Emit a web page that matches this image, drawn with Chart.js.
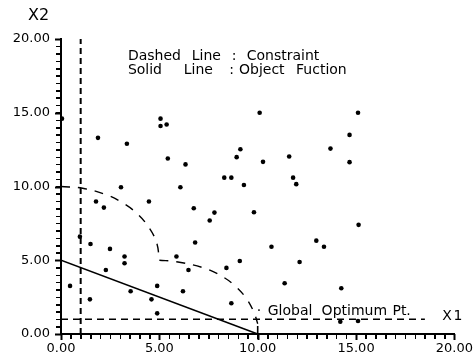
<!DOCTYPE html>
<html>
<head>
<meta charset="utf-8">
<script src="https://cdn.jsdelivr.net/npm/chart.js@4.4.1/dist/chart.umd.min.js"></script>
<style>
  html, body { margin: 0; padding: 0; background: #fff; }
</style>
</head>
<body>
<canvas id="optChart" width="475" height="361"></canvas>
<script>
// trial points (x1, x2)
const pointsX1 = [0.05, 1.88, 3.35, 5.06, 5.06, 5.37, 5.43, 6.33, 8.30, 8.66, 8.93, 9.12, 10.10, 15.10, 14.67, 13.70,
                  10.27, 11.60, 14.67, 11.80, 11.96, 9.30, 3.05, 6.07, 1.78, 2.18, 4.47, 6.75, 7.80, 7.56, 9.81, 15.13,
                  0.96, 1.50, 2.49, 6.82, 10.70, 12.98, 13.37, 3.23, 3.23, 5.87, 9.09, 12.13, 2.28, 6.48, 8.41,
                  0.46, 4.89, 3.54, 6.20, 11.37, 14.25, 1.47, 4.60, 8.66, 4.89, 14.20, 15.10];
const pointsX2 = [14.60, 13.30, 12.90, 14.60, 14.10, 14.20, 11.90, 11.50, 10.60, 10.60, 11.99, 12.53, 15.00, 15.00, 13.50, 12.57,
                  11.67, 12.03, 11.65, 10.60, 10.16, 10.10, 9.95, 9.95, 8.98, 8.57, 8.98, 8.53, 8.23, 7.69, 8.25, 7.40,
                  6.60, 6.10, 5.77, 6.20, 5.92, 6.33, 5.92, 5.25, 4.80, 5.25, 4.95, 4.88, 4.34, 4.34, 4.48,
                  3.26, 3.26, 2.90, 2.90, 3.44, 3.10, 2.35, 2.35, 2.08, 1.40, 0.83, 0.88];

// solid line : objective function
const objectiveX1 = [0, 10];
const objectiveX2 = [5, 0];

// dashed lines : constraints
const boundVertX1 = [1, 1];
const boundVertX2 = [0, 20];
const boundHorizX1 = [0, 18.5];
const boundHorizX2 = [1, 1];
const arcUpperX1 = [0, 1.1, 2.3, 3.1, 3.84, 4.43, 4.86, 5.0];
const arcUpperX2 = [10, 9.88, 9.44, 8.92, 8.2, 7.3, 6.2, 5.0];
const arcLowerX1 = [5.0, 5.87, 7.2, 8.2, 8.9, 9.4, 9.8, 10.0];
const arcLowerX2 = [5.0, 4.9, 4.5, 3.9, 3.2, 2.45, 1.5, 0.7];

// global optimum marker
const optimumX1 = [10, 10];
const optimumX2 = [0, 0.55];

// axis ticks: labelled every 5, small ticks every 0.5
const majorTicks = [0, 5, 10, 15, 20];
const tickStep = 0.5;

// text notes placed in data units
const notes = [
  { text: 'Dashed', x: 3.40, y: 18.59 },
  { text: 'Line', x: 6.65, y: 18.59 },
  { text: ':', x: 8.68, y: 18.59 },
  { text: 'Constraint', x: 9.44, y: 18.59 },
  { text: 'Solid', x: 3.40, y: 17.64 },
  { text: 'Line', x: 6.24, y: 17.64 },
  { text: ':', x: 8.55, y: 17.64 },
  { text: 'Object', x: 9.05, y: 17.64 },
  { text: 'Fuction', x: 11.95, y: 17.64 },
  { text: '\u00b7', x: 9.95, y: 1.29 },
  { text: 'Global', x: 10.51, y: 1.29 },
  { text: 'Optimum', x: 13.25, y: 1.29 },
  { text: 'Pt.', x: 16.85, y: 1.29 },
  { text: 'X', x: 19.38, y: 0.95 },
  { text: '1', x: 19.95, y: 0.95 }
];

function toPts(xs, ys) {
  return xs.map((x, i) => ({ x: x, y: ys[i] }));
}

function lineSet(xs, ys, width, dash, tension) {
  return {
    data: toPts(xs, ys),
    showLine: true,
    borderColor: '#000',
    borderWidth: width,
    borderDash: dash,
    tension: tension || 0,
    pointRadius: 0,
    fill: false
  };
}

// draws the notes, the X2 axis title and the small axis ticks
const notesPlugin = {
  id: 'notes',
  afterDraw(chart) {
    const c = chart.ctx;
    const xs = chart.scales.x;
    const ys = chart.scales.y;
    const area = chart.chartArea;
    c.save();
    c.setLineDash([]);
    c.strokeStyle = '#000';
    xs.ticks.forEach(t => {
      const major = majorTicks.includes(t.value);
      const px = Math.round(xs.getPixelForValue(t.value)) + 0.5;
      c.lineWidth = major ? 2 : 1;
      c.beginPath();
      c.moveTo(px, area.bottom);
      c.lineTo(px, area.bottom + (major ? 6 : 5));
      c.stroke();
    });
    ys.ticks.forEach(t => {
      const major = majorTicks.includes(t.value);
      const py = Math.round(ys.getPixelForValue(t.value)) + 0.5;
      c.lineWidth = major ? 2 : 1;
      c.beginPath();
      c.moveTo(area.left, py);
      c.lineTo(area.left - (major ? 6 : 5), py);
      c.stroke();
    });
    c.fillStyle = '#000';
    c.textBaseline = 'alphabetic';
    c.textAlign = 'left';
    c.font = '14px "DejaVu Sans"';
    notes.forEach(n => {
      c.fillText(n.text, xs.getPixelForValue(n.x), ys.getPixelForValue(n.y));
    });
    c.font = '16px "DejaVu Sans"';
    c.fillText('X2', area.left - 33, area.top - 19);
    c.restore();
  }
};

function axisOpts() {
  return {
    type: 'linear',
    min: 0,
    max: 20,
    afterBuildTicks: s => {
      const t = [];
      for (let v = s.min; v <= s.max + 1e-9; v += tickStep) t.push({ value: v });
      s.ticks = t;
    },
    ticks: {
      autoSkip: false,
      maxRotation: 0,
      color: '#000',
      font: { family: 'DejaVu Sans', size: 13 },
      callback: v => majorTicks.includes(v) ? v.toFixed(2) : ''
    },
    grid: {
      display: true,
      drawOnChartArea: false,
      drawTicks: true,
      tickLength: 5,
      tickColor: '#000'
    },
    border: { display: true, color: '#000', width: 2 }
  };
}

const xAxis = axisOpts();
xAxis.ticks.padding = 2;
xAxis.afterFit = s => { s.height = 27; };
const yAxis = axisOpts();
yAxis.ticks.padding = 6;
yAxis.afterFit = s => { s.width = 61; };

const ctx = document.getElementById('optChart').getContext('2d');
window.optChart = new Chart(ctx, {
  type: 'scatter',
  data: {
    datasets: [
      lineSet(objectiveX1, objectiveX2, 1.6, []),
      lineSet(boundVertX1, boundVertX2, 2, [6, 4]),
      lineSet(boundHorizX1, boundHorizX2, 1.6, [7, 5]),
      lineSet(arcUpperX1, arcUpperX2, 1.4, [9, 8], 0.4),
      lineSet(arcLowerX1, arcLowerX2, 1.4, [9, 8], 0.4),
      lineSet(optimumX1, optimumX2, 1.6, []),
      {
        data: toPts(pointsX1, pointsX2),
        pointRadius: 2.3,
        pointBackgroundColor: '#000',
        pointBorderWidth: 0
      }
    ]
  },
  options: {
    responsive: false,
    animation: false,
    layout: { padding: { top: 39, right: 20, left: 0, bottom: 0 } },
    plugins: { legend: { display: false }, tooltip: { enabled: false } },
    scales: { x: xAxis, y: yAxis }
  },
  plugins: [notesPlugin]
});
</script>
</body>
</html>
